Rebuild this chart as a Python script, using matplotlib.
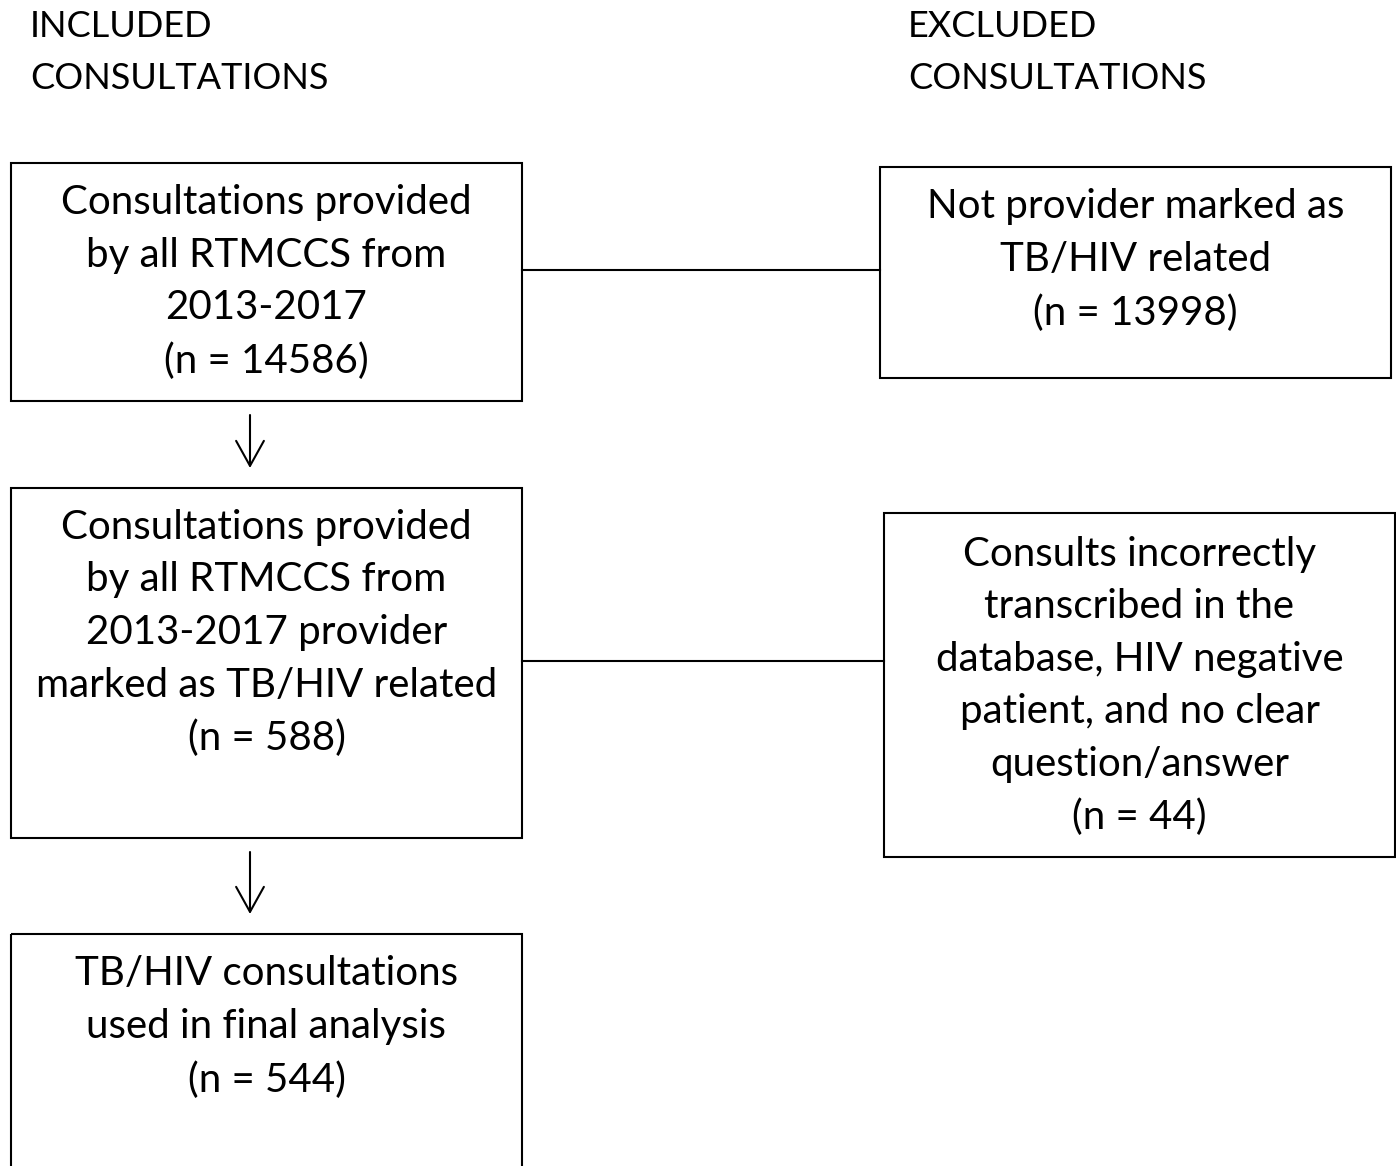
import matplotlib.pyplot as plt
from matplotlib.patches import Rectangle

# =========================
# FLOWCHART CONTENT
# =========================

headers = ["INCLUDED\nCONSULTATIONS", "EXCLUDED\nCONSULTATIONS"]

included_texts = [
    "Consultations provided\nby all RTMCCS from\n2013-2017\n(n = 14586)",
    "Consultations provided\nby all RTMCCS from\n2013-2017 provider\nmarked as TB/HIV related\n(n = 588)",
    "TB/HIV consultations\nused in final analysis\n(n = 544)",
]

excluded_texts = [
    "Not provider marked as\nTB/HIV related\n(n = 13998)",
    "Consults incorrectly\ntranscribed in the\ndatabase, HIV negative\npatient, and no clear\nquestion/answer\n(n = 44)",
]

# layout in pixel units (x0, y0, x1, y1), y grows downward
included_boxes = [(11, 163, 522, 401), (11, 488, 522, 838), (11, 934, 522, 1180)]
included_text_y = [282, 633, 1027]
excluded_boxes = [(880, 167, 1391, 378), (884, 513, 1395, 857)]
excluded_text_y = [260, 686]
link_y = [270, 661]

W, H = 1396, 1166
fig = plt.figure(figsize=(W / 100, H / 100), dpi=100)
ax = fig.add_axes([0, 0, 1, 1])
ax.set_xlim(0, W)
ax.set_ylim(H, 0)
ax.axis("off")

font = ["Lato", "DejaVu Sans"]
fs = 29
lsp = 1.52

ax.text(30, 10, headers[0], fontsize=26, family=font, va="top", ha="left",
        linespacing=1.69)
ax.text(908, 10, headers[1], fontsize=26, family=font, va="top", ha="left",
        linespacing=1.69)


def draw_box(b, text, ty):
    x0, y0, x1, y1 = b
    ax.add_patch(Rectangle((x0, y0), x1 - x0, y1 - y0, fill=False,
                           edgecolor="black", linewidth=1.5))
    ax.text((x0 + x1) / 2, ty, text, fontsize=fs, family=font, ha="center",
            va="center", linespacing=lsp, multialignment="center")


for b, t, ty in zip(included_boxes, included_texts, included_text_y):
    draw_box(b, t, ty)

for b, t, ty in zip(excluded_boxes, excluded_texts, excluded_text_y):
    draw_box(b, t, ty)

# horizontal connectors
for i, y in enumerate(link_y):
    ax.plot([included_boxes[i][2], excluded_boxes[i][0]], [y, y],
            color="black", linewidth=1.5)

# down arrows between included boxes
for i in range(len(included_boxes) - 1):
    top = included_boxes[i][3] + 14
    bottom = included_boxes[i + 1][1] - 20
    ax.annotate("", xy=(250, bottom), xytext=(250, top),
                arrowprops=dict(arrowstyle="->,head_length=1.8,head_width=1.0",
                                color="black", linewidth=1.5,
                                shrinkA=0, shrinkB=0))

fig.savefig("out.png", dpi=100)
